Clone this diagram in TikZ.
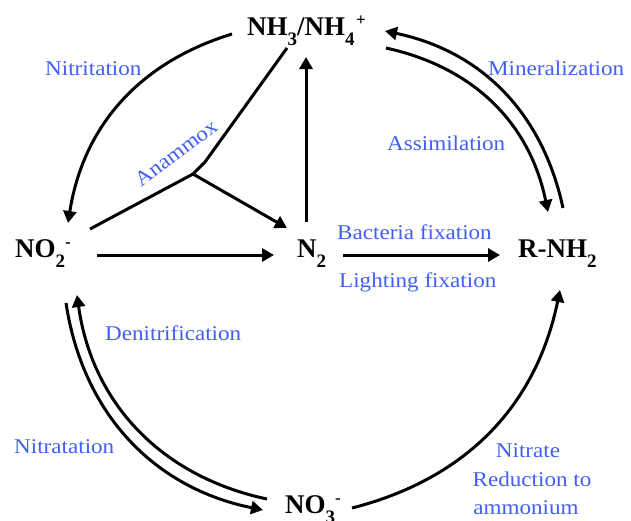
\documentclass[tikz,border=0pt]{standalone}
\usepackage{fontspec}
\setmainfont{Liberation Serif}
\newfontfamily\bluefont[FakeStretch=1.1]{Liberation Serif}
\usetikzlibrary{arrows.meta}
\definecolor{lblue}{RGB}{65,95,245}
\newcommand{\lsub}[1]{\raisebox{-0.38em}{\fontsize{19}{19}\selectfont #1}}
\newcommand{\lsup}[1]{\raisebox{0.36em}{\fontsize{17}{17}\selectfont #1}}
\tikzset{
  chem/.style={inner sep=0pt, anchor=base west, font=\fontsize{27}{27}\selectfont\bfseries},
  lab/.style={inner sep=0pt, anchor=base west, text=lblue, font=\bluefont\fontsize{21}{21}\selectfont},
  conn/.style={line width=3pt, -{Triangle[length=12pt,width=13pt]}},
  plain/.style={line width=3pt, line join=round}
}
\begin{document}
\begin{tikzpicture}[x=1pt,y=1pt]
\useasboundingbox (0,0) rectangle (631,-520);
% species
\node[chem] (nh) at (247,-35) {NH\lsub{3}/NH\lsub{4}\kern1.5pt\lsup{+}};
\node[chem] (no2) at (15,-257) {NO\lsub{2}\lsup{-}};
\node[chem] (n2) at (297,-257) {N\lsub{2}};
\node[chem] (rnh) at (518,-257) {R-NH\lsub{2}};
\node[chem] (no3) at (285,-513) {NO\lsub{3}\lsup{-}};
% labels
\node[lab] (lnitri) at (45,-75) {Nitritation};
\node[lab, anchor=center, rotate=37] (lanam) at (176,-153) {Anammox};
\node[lab] (lmin) at (488,-75) {Mineralization};
\node[lab] (lass) at (387,-150) {Assimilation};
\node[lab] (lbac) at (337,-239) {Bacteria fixation};
\node[lab] (llig) at (339,-287) {Lighting fixation};
\node[lab] (lden) at (105,-340) {Denitrification};
\node[lab] (lnitra) at (14,-453) {Nitratation};
\node[lab, anchor=base] (lnr1) at (528,-457) {Nitrate};
\node[lab, anchor=base] (lnr2) at (532,-486) {Reduction to};
\node[lab, anchor=base] (lnr3) at (526,-514) {ammonium};
% connector end points
\coordinate (nitS) at (232,-34);
\coordinate (nitE) at (68,-223);
\coordinate (anA) at (287,-48);
\coordinate (anK) at (205,-162);
\coordinate (anB) at (90,-229);
\coordinate (anJ) at (193,-174);
\coordinate (anE) at (287,-228);
\coordinate (upS) at (306,-222);
\coordinate (upE) at (306,-57);
\coordinate (hS) at (97,-255);
\coordinate (hE) at (274,-255);
\coordinate (fS) at (343,-255);
\coordinate (fE) at (500,-255);
\coordinate (minS) at (563,-208);
\coordinate (minE) at (385,-31);
\coordinate (assS) at (386,-48);
\coordinate (assE) at (548,-212);
\coordinate (ntS) at (66,-303);
\coordinate (ntE) at (263,-510);
\coordinate (dnS) at (267,-499);
\coordinate (dnE) at (77,-295);
\coordinate (nrS) at (352,-508);
\coordinate (nrE) at (560,-290);
% connectors
\draw[conn] (nitS) to[bend right=32] (nitE);
\draw[plain] (anA) -- (anK) -- (anJ);
\draw[plain] (anB) -- (anJ);
\draw[conn] (anJ) -- (anE);
\draw[conn] (upS) -- (upE);
\draw[conn] (hS) -- (hE);
\draw[conn] (fS) -- (fE);
\draw[conn] (minS) to[bend right=33] (minE);
\draw[conn] (assS) to[bend left=33] (assE);
\draw[conn] (ntS) to[bend right=35] (ntE);
\draw[conn] (dnS) to[bend left=35] (dnE);
\draw[conn] (nrS) to[bend right=32] (nrE);
\end{tikzpicture}
\end{document}
